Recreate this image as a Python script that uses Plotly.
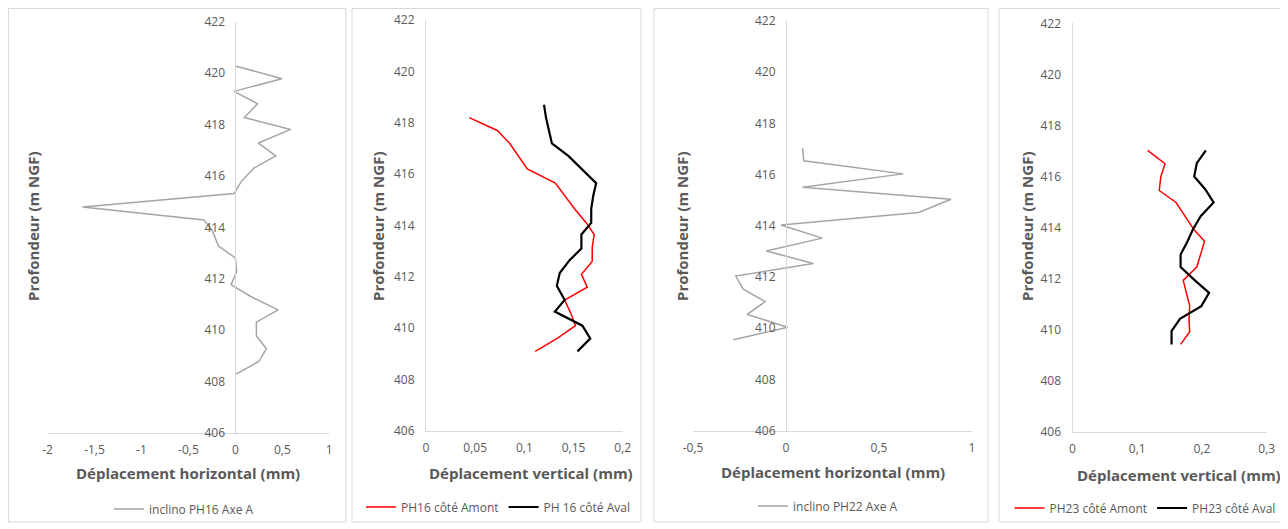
import plotly.graph_objects as go

# ---------------- DATA ----------------
# Panel 1 : inclino PH16 Axe A
ph16_depth = [420.28, 419.78, 419.29, 418.81, 418.27, 417.81, 417.28, 416.78, 416.31, 415.79,
              415.32, 414.79, 414.29, 413.87, 413.27, 412.81, 412.27, 411.77, 411.31, 410.79,
              410.31, 409.77, 409.28, 408.79, 408.29]
ph16_horiz = [0.0, 0.495, -0.014, 0.235, 0.096, 0.59, 0.245, 0.43, 0.20, 0.064,
              -0.014, -1.626, -0.335, -0.245, -0.18, 0.0, 0.014, -0.046, 0.164, 0.455,
              0.224, 0.224, 0.33, 0.253, 0.007]

# Panel 2 : PH16 vertical
ph16_amont_depth = [418.2, 417.7, 417.2, 416.7, 416.2, 415.65, 415.15, 414.65, 414.1, 413.65,
                    413.15, 412.6, 412.1, 411.6, 411.1, 410.6, 410.1, 409.6, 409.1]
ph16_amont = [0.044, 0.0725, 0.085, 0.094, 0.103, 0.1315, 0.141, 0.151, 0.163, 0.171,
              0.169, 0.169, 0.158, 0.164, 0.141, 0.147, 0.152, 0.133, 0.111]
ph16_aval_depth = [418.7, 418.2, 417.7, 417.2, 416.7, 416.2, 415.65, 415.15, 414.65, 414.1,
                   413.65, 413.1, 412.65, 412.15, 411.65, 411.1, 410.65, 410.1, 409.6, 409.1]
ph16_aval = [0.120, 0.122, 0.125, 0.128, 0.145, 0.158, 0.173, 0.170, 0.168, 0.168,
             0.158, 0.158, 0.146, 0.136, 0.133, 0.141, 0.131, 0.159, 0.167, 0.154]

# Panel 3 : inclino PH22 Axe A
ph22_depth = [417.03, 416.54, 416.03, 415.51, 415.04, 414.52, 414.03, 413.52, 413.02, 412.53,
              412.04, 411.53, 411.04, 410.54, 410.04, 409.55]
ph22_horiz = [0.089, 0.096, 0.63, 0.089, 0.887, 0.713, -0.027, 0.195, -0.106, 0.147,
              -0.27, -0.23, -0.112, -0.209, 0.009, -0.284]

# Panel 4 : PH23 vertical
ph23_amont_depth = [417.02, 416.5, 416.0, 415.45, 414.98, 414.45, 413.92, 413.46, 412.95, 412.45,
                    411.93, 411.44, 410.94, 410.4, 409.91, 409.42]
ph23_amont = [0.116, 0.143, 0.1365, 0.134, 0.16, 0.174, 0.1875, 0.204, 0.198, 0.192,
              0.171, 0.176, 0.181, 0.18, 0.181, 0.167]
ph23_aval_depth = [417.02, 416.52, 416.0, 415.5, 414.98, 414.44, 413.92, 413.42, 412.94, 412.45,
                   411.93, 411.44, 410.92, 410.42, 409.94, 409.42]
ph23_aval = [0.206, 0.192, 0.188, 0.205, 0.218, 0.198, 0.186, 0.177, 0.167, 0.167,
             0.189, 0.211, 0.199, 0.166, 0.153, 0.153]

# Tick labels
y_ticks = [406, 408, 410, 412, 414, 416, 418, 420, 422]
x1_ticks = [-2, -1.5, -1, -0.5, 0, 0.5, 1]
x1_labels = ["-2", "-1,5", "-1", "-0,5", "0", "0,5", "1"]
x2_ticks = [0, 0.05, 0.1, 0.15, 0.2]
x2_labels = ["0", "0,05", "0,1", "0,15", "0,2"]
x3_ticks = [-0.5, 0, 0.5, 1]
x3_labels = ["-0,5", "0", "0,5", "1"]
x4_ticks = [0, 0.1, 0.2, 0.3]
x4_labels = ["0", "0,1", "0,2", "0,3"]

# ---------------- FIGURE ----------------
OFF = 8  # default page body margin
W, H = 1288 - OFF, 529 - OFF
FONT = "Open Sans"
TXT = "#595959"
AX = "#d9d9d9"
GREY = "#a5a5a5"


def px(v):
    return max(v - OFF, 0.5) / W


def py(v):
    return 1 - max(v - OFF, 0.5) / H


fig = go.Figure()

fig.add_trace(go.Scatter(x=ph16_horiz, y=ph16_depth, mode="lines", name="inclino PH16 Axe A",
                         line=dict(color=GREY, width=1.5), xaxis="x", yaxis="y", legend="legend"))
fig.add_trace(go.Scatter(x=ph16_amont, y=ph16_amont_depth, mode="lines", name="PH16 côté Amont",
                         line=dict(color="#ff0000", width=1.5), xaxis="x2", yaxis="y2", legend="legend2"))
fig.add_trace(go.Scatter(x=ph16_aval, y=ph16_aval_depth, mode="lines", name="PH 16 côté Aval",
                         line=dict(color="#000000", width=2.2), xaxis="x2", yaxis="y2", legend="legend2"))
fig.add_trace(go.Scatter(x=ph22_horiz, y=ph22_depth, mode="lines", name="inclino PH22 Axe A",
                         line=dict(color=GREY, width=1.5), xaxis="x3", yaxis="y3", legend="legend3"))
fig.add_trace(go.Scatter(x=ph23_amont, y=ph23_amont_depth, mode="lines", name="PH23 côté Amont",
                         line=dict(color="#ff0000", width=1.5), xaxis="x4", yaxis="y4", legend="legend4"))
fig.add_trace(go.Scatter(x=ph23_aval, y=ph23_aval_depth, mode="lines", name="PH23 côté Aval",
                         line=dict(color="#000000", width=2.2), xaxis="x4", yaxis="y4", legend="legend4"))

panels = [
    dict(x0=47.5, x1=329.3, yb=433.0, yt=21.7, xr=[-2, 1], tv=x1_ticks, tt=x1_labels, ypos=235.4),
    dict(x0=426.0, x1=622.7, yb=431.0, yt=20.0, xr=[0, 0.2], tv=x2_ticks, tt=x2_labels, ypos=None),
    dict(x0=693.0, x1=972.0, yb=430.7, yt=21.0, xr=[-0.5, 1], tv=x3_ticks, tt=x3_labels, ypos=786.0),
    dict(x0=1072.5, x1=1266.7, yb=431.7, yt=23.3, xr=[0, 0.3], tv=x4_ticks, tt=x4_labels, ypos=None),
]

layout_axes = {}
for i, p in enumerate(panels, start=1):
    xk = "xaxis" if i == 1 else f"xaxis{i}"
    yk = "yaxis" if i == 1 else f"yaxis{i}"
    ya = "y" if i == 1 else f"y{i}"
    xa = "x" if i == 1 else f"x{i}"
    layout_axes[xk] = dict(domain=[px(p["x0"]), px(p["x1"])], range=p["xr"], anchor=ya,
                           tickvals=p["tv"], ticktext=p["tt"], showgrid=False, zeroline=False,
                           showline=True, linecolor=AX, linewidth=1, ticks="",
                           tickfont=dict(family=FONT, size=12, color=TXT), ticklabelstandoff=6,
                           automargin=False, fixedrange=True)
    ydict = dict(domain=[py(p["yb"]), py(p["yt"])], range=[406, 422], tickvals=y_ticks,
                 showgrid=False, zeroline=False, showline=True, linecolor=AX, linewidth=1,
                 ticks="", tickfont=dict(family=FONT, size=12, color=TXT), ticklabelstandoff=8,
                 automargin=False, fixedrange=True)
    if p["ypos"] is None:
        ydict["anchor"] = xa
    else:
        ydict["anchor"] = "free"
        ydict["position"] = px(p["ypos"])
    layout_axes[yk] = ydict

fig.update_layout(**layout_axes)

# Panel borders
borders = [(7, 346), (352, 641), (654, 988), (999, 1287)]
for bx0, bx1 in borders:
    fig.add_shape(type="rect", xref="paper", yref="paper", x0=px(bx0), x1=px(bx1),
                  y0=py(522), y1=py(7), line=dict(color=AX, width=1), fillcolor="rgba(0,0,0,0)",
                  layer="below")

# Axis titles as annotations
ytitle_x = [33, 378, 682, 1027]
xtitles = [("Déplacement horizontal (mm)", 188, 473),
           ("Déplacement vertical (mm)", 531, 473),
           ("Déplacement horizontal (mm)", 833, 472),
           ("Déplacement vertical (mm)", 1179, 475)]
for xt in ytitle_x:
    fig.add_annotation(text="<b>Profondeur (m NGF)</b>", xref="paper", yref="paper",
                       x=px(xt), y=py(227), textangle=-90, showarrow=False,
                       font=dict(family=FONT, size=15, color=TXT), xanchor="center", yanchor="middle")
for t, xx, yy in xtitles:
    fig.add_annotation(text=f"<b>{t}</b>", xref="paper", yref="paper", x=px(xx), y=py(yy),
                       showarrow=False, font=dict(family=FONT, size=15, color=TXT),
                       xanchor="center", yanchor="middle")

leg_common = dict(orientation="h", xanchor="center", yanchor="middle", bgcolor="rgba(0,0,0,0)",
                  font=dict(family=FONT, size=12, color=TXT), itemwidth=30, tracegroupgap=0)
fig.update_layout(
    width=W, height=H, margin=dict(l=0, r=0, t=0, b=0, pad=0, autoexpand=False),
    paper_bgcolor="white", plot_bgcolor="white",
    separators=", ",
    showlegend=True,
    legend=dict(x=px(184), y=py(509), **leg_common),
    legend2=dict(x=px(498), y=py(507), **leg_common),
    legend3=dict(x=px(828), y=py(506), **leg_common),
    legend4=dict(x=px(1145), y=py(508), **leg_common),
)

fig.write_html("out.html")
